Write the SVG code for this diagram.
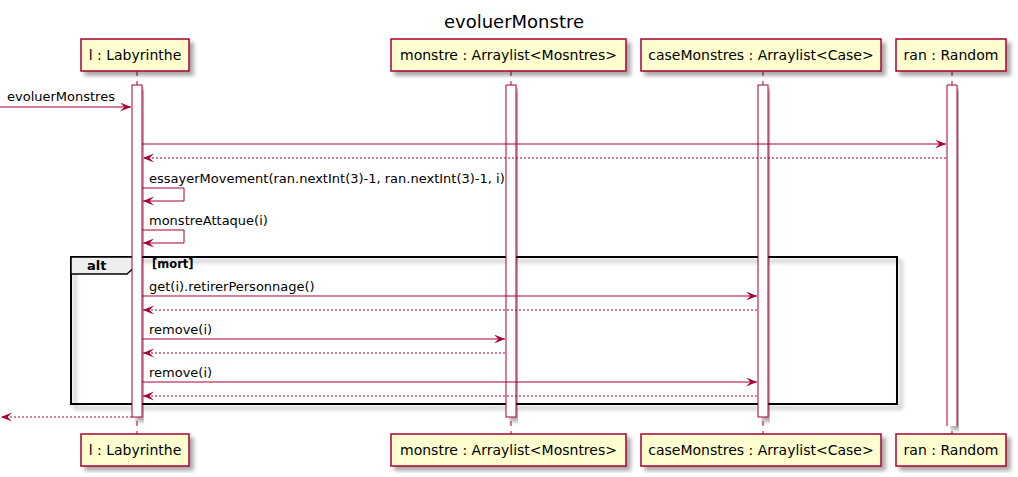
<svg xmlns="http://www.w3.org/2000/svg" width="1018" height="477" viewBox="0 0 1018 477">
<defs>
<filter id="sh" x="-10%" y="-10%" width="130%" height="130%">
<feGaussianBlur in="SourceAlpha" stdDeviation="2"/>
<feOffset dx="4" dy="4" result="b"/>
<feComponentTransfer><feFuncA type="linear" slope="0.35"/></feComponentTransfer>
<feMerge><feMergeNode/><feMergeNode in="SourceGraphic"/></feMerge>
</filter>
<marker id="ah" markerUnits="userSpaceOnUse" markerWidth="12" markerHeight="10" refX="11" refY="4.5" orient="auto">
<path d="M0,0 L11,4.5 L0,9 L4.5,4.5 Z" fill="#A80036"/>
</marker>
</defs>
<style>
.box{fill:#FEFECE;stroke:#A80036;stroke-width:1.5}
.pt{font-family:"DejaVu Sans","Liberation Sans",sans-serif;font-size:14px;fill:#000;text-anchor:middle}
.life{stroke:#A80036;stroke-width:1;stroke-dasharray:5,5;fill:none}
.act{fill:#FFFFFF;stroke:#A80036;stroke-width:1}
.msg{stroke:#A80036;stroke-width:1;fill:none;marker-end:url(#ah)}
.ret{stroke:#A80036;stroke-width:1;fill:none;stroke-dasharray:2,2;marker-end:url(#ah)}
.ml{font-family:"DejaVu Sans","Liberation Sans",sans-serif;font-size:13px;fill:#000}
.frame{fill:none;stroke:#000;stroke-width:2}
</style>
<text x="514" y="28" font-family="DejaVu Sans, Liberation Sans, sans-serif" font-size="18" text-anchor="middle">evoluerMonstre</text>

<g id="frame-alt">
<rect x="71" y="257" width="826" height="147" class="frame" filter="url(#sh)"/>
<path d="M71,257 H137 V265 L127,274 H71 Z" fill="#EEEEEE" stroke="#000" stroke-width="1.5"/>
<text x="87" y="270" font-family="DejaVu Sans, Liberation Sans, sans-serif" font-size="13" font-weight="bold">alt</text>
<text x="152" y="268" font-family="DejaVu Sans, Liberation Sans, sans-serif" font-size="11.5" font-weight="bold">[mort]</text>
</g>

<g id="p-labyrinthe">
<line x1="137" y1="71" x2="137" y2="434" class="life"/>
<rect x="132" y="85" width="10" height="332" class="act" filter="url(#sh)"/>
<rect x="81" y="39" width="108" height="32" class="box" filter="url(#sh)"/>
<text x="135" y="60" class="pt">l : Labyrinthe</text>
<rect x="81" y="434" width="108" height="32" class="box" filter="url(#sh)"/>
<text x="135" y="455" class="pt">l : Labyrinthe</text>
</g>

<g id="p-monstre">
<line x1="511" y1="71" x2="511" y2="434" class="life"/>
<rect x="506" y="85" width="10" height="332" class="act" filter="url(#sh)"/>
<rect x="391" y="39" width="235" height="32" class="box" filter="url(#sh)"/>
<text x="508.5" y="60" class="pt">monstre : Arraylist&lt;Mosntres&gt;</text>
<rect x="391" y="434" width="235" height="32" class="box" filter="url(#sh)"/>
<text x="508.5" y="455" class="pt">monstre : Arraylist&lt;Mosntres&gt;</text>
</g>

<g id="p-caseMonstres">
<line x1="763" y1="71" x2="763" y2="434" class="life"/>
<rect x="758" y="85" width="10" height="332" class="act" filter="url(#sh)"/>
<rect x="641" y="39" width="240" height="32" class="box" filter="url(#sh)"/>
<text x="761" y="60" class="pt">caseMonstres : Arraylist&lt;Case&gt;</text>
<rect x="641" y="434" width="240" height="32" class="box" filter="url(#sh)"/>
<text x="761" y="455" class="pt">caseMonstres : Arraylist&lt;Case&gt;</text>
</g>

<g id="p-ran">
<line x1="952" y1="71" x2="952" y2="434" class="life"/>
<rect x="947" y="85" width="10" height="341" fill="#FFFFFF" stroke="none" filter="url(#sh)"/>
<path d="M947,426 V85 H957 V426" fill="none" stroke="#A80036" stroke-width="1"/>
<rect x="896" y="39" width="110" height="32" class="box" filter="url(#sh)"/>
<text x="951" y="60" class="pt">ran : Random</text>
<rect x="896" y="434" width="110" height="32" class="box" filter="url(#sh)"/>
<text x="951" y="455" class="pt">ran : Random</text>
</g>

<g id="connectors">
<line x1="0" y1="107" x2="131" y2="107" class="msg"/>
<text x="7" y="101" class="ml">evoluerMonstres</text>
<line x1="142" y1="144" x2="946" y2="144" class="msg"/>
<line x1="946" y1="158" x2="143" y2="158" class="ret"/>
<path d="M142,188 H184 V201 H143" class="msg"/>
<text x="149" y="183" class="ml">essayerMovement(ran.nextInt(3)-1, ran.nextInt(3)-1, i)</text>
<path d="M142,230 H184 V243 H143" class="msg"/>
<text x="149" y="225" class="ml">monstreAttaque(i)</text>
<line x1="142" y1="296" x2="757" y2="296" class="msg"/>
<text x="149" y="291" class="ml">get(i).retirerPersonnage()</text>
<line x1="757" y1="310" x2="143" y2="310" class="ret"/>
<line x1="142" y1="339" x2="505" y2="339" class="msg"/>
<text x="149" y="334" class="ml">remove(i)</text>
<line x1="505" y1="353" x2="143" y2="353" class="ret"/>
<line x1="142" y1="382" x2="757" y2="382" class="msg"/>
<text x="149" y="377" class="ml">remove(i)</text>
<line x1="757" y1="396" x2="143" y2="396" class="ret"/>
<line x1="132" y1="417" x2="1" y2="417" class="ret"/>
</g>
</svg>
